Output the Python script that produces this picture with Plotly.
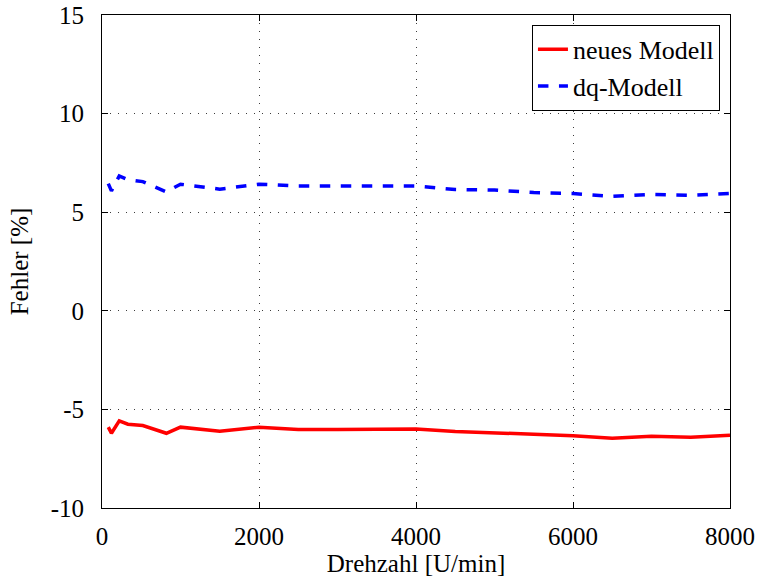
import plotly.graph_objects as go

drehzahl = [80, 120, 220, 330, 520, 820, 1000, 1500, 2000, 2500, 3000, 3500, 4000,
            4500, 5000, 5500, 6000, 6500, 7000, 7500, 8000]
neues_modell = [-5.90, -6.21, -5.58, -5.75, -5.82, -6.21, -5.90, -6.11, -5.90, -6.02, -6.02,
                -6.01, -6.00, -6.12, -6.17, -6.26, -6.33, -6.46, -6.36, -6.41, -6.31]
dq_modell = [6.45, 6.08, 6.84, 6.65, 6.55, 6.03, 6.42, 6.17, 6.42, 6.33, 6.33,
             6.33, 6.33, 6.15, 6.12, 6.00, 5.95, 5.80, 5.90, 5.86, 5.95]

x_ticks = [0, 2000, 4000, 6000, 8000]
y_ticks = [-10, -5, 0, 5, 10, 15]

font = "Liberation Serif"
fs = 25

fig = go.Figure()
fig.add_trace(go.Scatter(x=drehzahl, y=neues_modell, mode="lines", name="neues Modell",
                         line=dict(color="rgb(255,0,0)", width=3.5)))
fig.add_trace(go.Scatter(x=drehzahl, y=dq_modell, mode="lines", name="dq-Modell",
                         line=dict(color="rgb(0,0,255)", width=3.5, dash="dash")))

axis_common = dict(showline=True, linecolor="black", linewidth=1, mirror="ticks",
                   ticks="inside", ticklen=6, tickcolor="black", automargin=False,
                   showgrid=True, gridcolor="rgb(60,60,60)", gridwidth=1, griddash="1px,7px",
                   zeroline=False, tickfont=dict(family=font, size=fs, color="black"))

fig.update_xaxes(range=[0, 8000], tickvals=x_ticks, ticktext=[str(v) for v in x_ticks],
                 ticklabelstandoff=6,
                 title=dict(text="Drehzahl [U/min]", font=dict(family=font, size=fs, color="black"),
                            standoff=4),
                 **axis_common)
fig.update_yaxes(range=[-10, 15], tickvals=y_ticks, ticktext=[str(v) for v in y_ticks],
                 ticklabelstandoff=12,
                 title=dict(text="Fehler [%]", font=dict(family=font, size=fs, color="black"),
                            standoff=14),
                 **axis_common)

fig.update_layout(
    width=759, height=578,
    margin=dict(l=102, r=29, t=15, b=70, autoexpand=False),
    paper_bgcolor="white", plot_bgcolor="white",
    font=dict(family=font, size=fs, color="black"),
    legend=dict(x=0.984, y=0.98, xanchor="right", yanchor="top",
                bgcolor="white", bordercolor="black", borderwidth=1,
                font=dict(family=font, size=26, color="black"),
                entrywidth=205, entrywidthmode="pixels",
                tracegroupgap=0),
    showlegend=True,
)

fig.write_html("out.html")
